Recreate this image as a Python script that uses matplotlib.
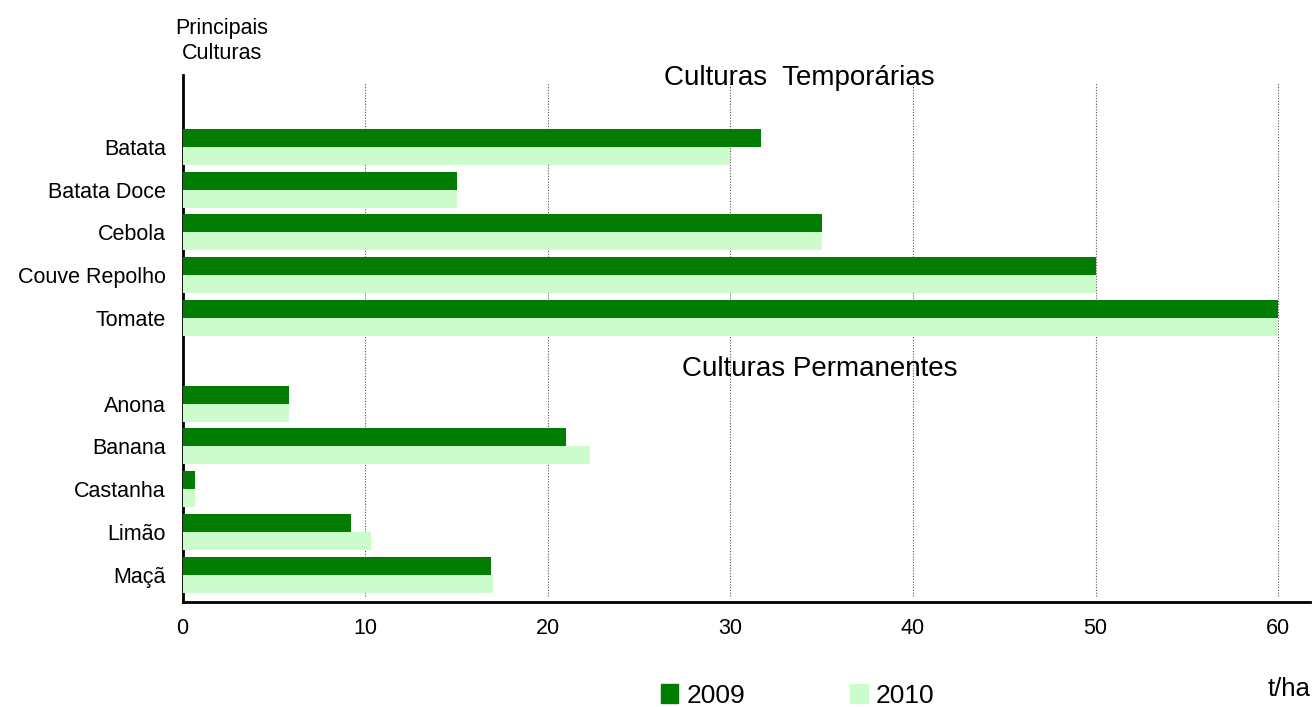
import matplotlib
matplotlib.use("Agg")
import matplotlib.pyplot as plt
from matplotlib.patches import Patch
import numpy as np

plt.rcParams['font.family'] = ['Liberation Sans', 'DejaVu Sans']

temp_crops = ["Batata", "Batata Doce", "Cebola", "Couve Repolho", "Tomate"]
temp_2009 = [31.7, 15.0, 35.0, 50.0, 60.0]
temp_2010 = [30.0, 15.0, 35.0, 50.0, 60.0]

perm_crops = ["Anona", "Banana", "Castanha", "Limão", "Maçã"]
perm_2009 = [5.8, 21.0, 0.7, 9.2, 16.9]
perm_2010 = [5.8, 22.3, 0.7, 10.3, 17.0]

years = ["2009", "2010"]
xticks = [0, 10, 20, 30, 40, 50, 60]

c2009 = "#037c03"
c2010 = "#ccfccc"

labels = temp_crops + perm_crops
v2009 = temp_2009 + perm_2009
v2010 = temp_2010 + perm_2010
pos = list(range(5)) + list(range(6, 11))
pos = np.array(pos, dtype=float)

fig = plt.figure(figsize=(13.14, 7.07), dpi=100)
ax = fig.add_axes([0.139, 0.149, 0.858, 0.745])

h = 0.42
ax.barh(pos - h / 2, v2009, height=h, color=c2009, zorder=3)
ax.barh(pos + h / 2, v2010, height=h, color=c2010, zorder=3)

ax.set_ylim(10.63, -1.68)
ax.set_xlim(0, 61.75)
ax.set_yticks(pos)
ax.set_yticklabels(labels, fontsize=15.5)
ax.set_xticks(xticks)
ax.set_xticklabels([str(t) for t in xticks], fontsize=15.5)
ax.tick_params(axis='y', length=0, pad=12)
ax.tick_params(axis='x', length=0, pad=12)

for t in xticks[1:]:
    ax.axvline(t, ymin=0.01, ymax=0.985, color="#555555", linestyle=(0, (1, 1.5)), linewidth=0.8, zorder=1)

for s in ["top", "right"]:
    ax.spines[s].set_visible(False)
ax.spines["left"].set_linewidth(2)
ax.spines["bottom"].set_linewidth(2)

ax.text(33.8, -1.6, "Culturas  Temporárias", fontsize=20, ha="center", va="center")
ax.text(34.9, 5.2, "Culturas Permanentes", fontsize=20, ha="center", va="center")

fig.text(0.169, 0.942, "Principais\nCulturas", fontsize=15.5, ha="center", va="center", linespacing=1.3)
fig.text(0.997, 0.015, "t/ha", fontsize=18.5, ha="right", va="baseline")

handles = [Patch(color=c2009), Patch(color=c2010)]
leg = fig.legend(handles, years, loc="lower center", bbox_to_anchor=(0.607, -0.035), ncol=2,
                 frameon=False, fontsize=19, handlelength=0.65, handleheight=0.75,
                 handletextpad=0.3, columnspacing=4.0)

fig.savefig("out.png", dpi=100)
